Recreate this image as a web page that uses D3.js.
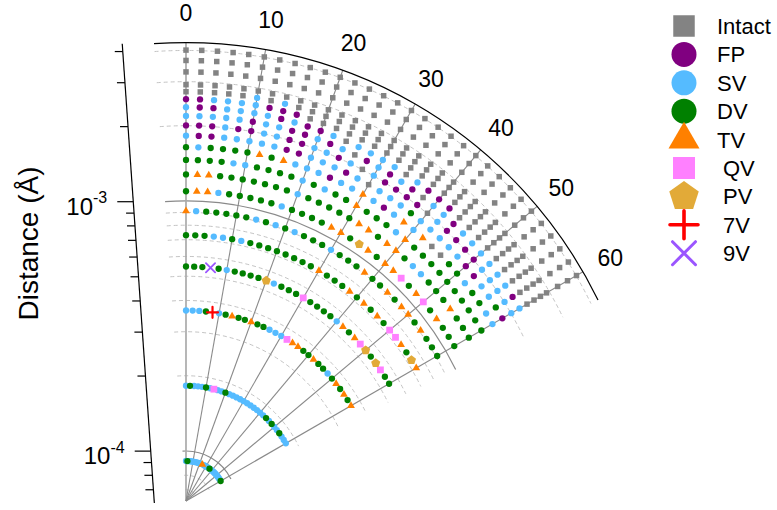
<!DOCTYPE html>
<html>
<head>
<meta charset="utf-8">
<script src="https://d3js.org/d3.v7.min.js"></script>
<style>
  html, body { margin: 0; padding: 0; background: #fff; }
  svg { display: block; }
  text { font-family: "Liberation Sans", Arial, Helvetica, sans-serif; fill: #000; }
</style>
</head>
<body>
<svg id="chart" width="777" height="510"></svg>
<script>
// Defect types, in legend order, with the one-letter code used in shellTypes
const typeNames = ["Intact", "FP", "SV", "DV", "TV", "QV", "PV", "7V", "9V"];
const typeCodes = ["I", "F", "S", "D", "T", "Q", "P", "7", "9"];

// Polar angle of each sample on a shell (degrees)
const angles = [0, 2, 4, 6, 8, 10, 12, 14, 16, 18, 20, 22, 24, 26, 28, 30,
                32, 34, 36, 38, 40, 42, 44, 46, 48, 50, 52, 54, 56, 58, 60];

// Shell distances (Å), inner to outer
const distances = [9.12e-5, 1.824e-4, 3.648e-4, 5.47e-4, 7.30e-4, 9.12e-4,
                   1.094e-3, 1.277e-3, 1.459e-3, 1.642e-3, 1.824e-3, 2.006e-3,
                   2.189e-3, 2.371e-3, 2.554e-3, 2.736e-3, 2.918e-3, 3.283e-3,
                   3.648e-3, 4.013e-3];

// Defect type at every angle of each shell (one code per angle, spaces ignored)
const shellTypes = [
  "SDSSS SSSSS SSTSS SSSDS SSSSS SSSSS D",
  "SDSSS DSQSS DSSSS SSSSS SSDSD SSDSS S",
  "SSSD7 SDTDD TDDSS SQTTD DTDDS DTDTD T",
  "DDD9D SDDDD PSDDD QDDDD STDTQ PDPQD D",
  "DDDSS DSDDD DDDDD TDDDT DTDTD QQTDP T",
  "TSDDD DDSDS DSDDD SDDDT DDTDT TDTDD D",
  "DTTSD DDDDS DDDDT TDPTD TTQDT QDTDD D",
  "DTTDD DDDDD SDDDD DTTDT TDSSD DDTDD D",
  "DDDDS SDDDD SDSDD TDDDS TDDDD DDDDD D",
  "DSDDD DTDTS SSFSS TSFST STIID DSDDS S",
  "SFFSS SSSFF SSSFS ISSSD SSSSS FFSSD F",
  "FFFSF FSSFF SSFSI SFFFF ISFFF FSSSS S",
  "SSSSS FSSFF SFSIF SFSFI SSFSS SSSSF S",
  "SFFSS SSFSF FSISS SSISF FFIII IIIII I",
  "FFSSS SFFFI IIIII IIIII IIIII IIIII I",
  "IIIII SISII IIIII IIIII IIIII IIIII I",
  "IIIII IIIII IIIII IIIII IIIII IIIII I",
  "IIIII IIIII IIIII IIIII IIIII IIIII I",
  "IIIII IIIII IIIII IIIII IIIII IIIII I",
  "IIIII IIIII IIIII IIIII IIIII IIIII I"
];

// Axis ticks
const angleTicks = [0, 10, 20, 30, 40, 50, 60];
const radialMajor = [1e-4, 1e-3];
const radialMajorExp = ["-4", "-3"];
const radialMinor = [7e-5, 8e-5, 9e-5, 2e-4, 3e-4, 4e-4, 5e-4, 6e-4, 7e-4, 8e-4, 9e-4,
                     2e-3, 3e-3, 4e-3];

// ---- layout ----
const svg = d3.select("#chart");
const cx = 186, cy = 501;
const rMax = 458.4;
const arcStart = -4, arcEnd = 64;          // angular span of the sector (deg)

const rScale = d3.scaleLog().domain([6.31e-5, 4.3e-3]).range([0, rMax]);
const aScale = d3.scaleLinear().domain([0, 360]).range([0, 2 * Math.PI]);

const colors = {
  I: "#838383", F: "#800080", S: "#55bbff", D: "#008000", T: "#ff8000",
  Q: "#ff80ff", P: "#e2aa38", "7": "#ff0000", "9": "#9b55ff"
};

function polar(r, deg) {
  const a = aScale(deg);
  return [cx + r * Math.sin(a), cy - r * Math.cos(a)];
}

function arcPath(r) {
  const p = d3.path();
  const a0 = aScale(arcStart) - Math.PI / 2, a1 = aScale(arcEnd) - Math.PI / 2;
  p.moveTo(cx + r * Math.cos(a0), cy + r * Math.sin(a0));
  p.arc(cx, cy, r, a0, a1);
  return p.toString();
}

// ---- grid ----
const grid = svg.append("g");
grid.selectAll("path.minor").data(radialMinor).join("path")
  .attr("class", "minor")
  .attr("d", d => arcPath(rScale(d)))
  .attr("fill", "none").attr("stroke", "#c4c4c4")
  .attr("stroke-width", 1).attr("stroke-dasharray", "4,3");

grid.selectAll("path.major").data(radialMajor).join("path")
  .attr("class", "major")
  .attr("d", d => arcPath(rScale(d)))
  .attr("fill", "none").attr("stroke", "#8a8a8a").attr("stroke-width", 1.2);

grid.selectAll("line.spoke").data(angleTicks).join("line")
  .attr("class", "spoke")
  .attr("x1", cx).attr("y1", cy)
  .attr("x2", d => polar(rMax, d)[0]).attr("y2", d => polar(rMax, d)[1])
  .attr("stroke", d => d === 0 ? "#aaaaaa" : "#8a8a8a")
  .attr("stroke-width", d => d === 0 ? 1.7 : 1.1);

svg.append("path").attr("d", arcPath(rMax))
  .attr("fill", "none").attr("stroke", "#000").attr("stroke-width", 1.2);

// angular tick labels
svg.append("g").selectAll("text").data(angleTicks).join("text")
  .attr("x", d => polar(490, d)[0])
  .attr("y", d => polar(490, d)[1] + 10)
  .attr("text-anchor", "middle")
  .attr("font-size", 23)
  .text(d => d);

// ---- radial axis (drawn along the -4° edge, offset to the left) ----
const axisTilt = aScale(-arcStart);
const axisX0 = 154.2;
function axisPoint(r) {
  return [axisX0 - r * Math.sin(axisTilt), cy - r * Math.cos(axisTilt)];
}
const ax = svg.append("g").attr("stroke", "#000").attr("stroke-width", 1.2);
ax.append("line")
  .attr("x1", axisPoint(-2)[0]).attr("y1", axisPoint(-2)[1])
  .attr("x2", axisPoint(rMax)[0]).attr("y2", axisPoint(rMax)[1]);
ax.selectAll("line.minor").data(radialMinor).join("line")
  .attr("class", "minor")
  .attr("x1", d => axisPoint(rScale(d))[0]).attr("y1", d => axisPoint(rScale(d))[1])
  .attr("x2", d => axisPoint(rScale(d))[0] - 8).attr("y2", d => axisPoint(rScale(d))[1]);
ax.selectAll("line.major").data(radialMajor).join("line")
  .attr("class", "major")
  .attr("x1", d => axisPoint(rScale(d))[0]).attr("y1", d => axisPoint(rScale(d))[1])
  .attr("x2", d => axisPoint(rScale(d))[0] - 16).attr("y2", d => axisPoint(rScale(d))[1]);

const tickLab = svg.append("g").selectAll("text").data(radialMajor).join("text")
  .attr("x", d => axisPoint(rScale(d))[0] - 26)
  .attr("y", d => axisPoint(rScale(d))[1] + 13)
  .attr("text-anchor", "end")
  .attr("font-size", 24);
tickLab.append("tspan").text("10");
tickLab.append("tspan").attr("font-size", 16).attr("dy", -11.5)
  .text((d, i) => radialMajorExp[i]);

svg.append("text")
  .attr("transform", "translate(38,243.5) rotate(-90)")
  .attr("text-anchor", "middle")
  .attr("font-size", 28)
  .text("Distance (Å)");

// ---- markers ----
function markerPath(code, big) {
  const s = big ? 1 : 0;
  switch (code) {
    case "I": { const side = [5.5, 21.5][s]; return d3.symbol(d3.symbolSquare, side * side)(); }
    case "F": case "S": case "D": { const dia = [6.3, 25][s]; return d3.symbol(d3.symbolCircle, Math.PI * dia * dia / 4)(); }
    case "T": { const side = [7.8, 31][s]; return d3.symbol(d3.symbolTriangle, side * side * Math.sqrt(3) / 4)(); }
    case "Q": { const side = [6.8, 22][s]; return d3.symbol(d3.symbolSquare, side * side)(); }
    case "P": {
      const R = [4.8, 15.5][s];
      const pts = d3.range(5).map(k => {
        const a = -Math.PI / 2 + k * 2 * Math.PI / 5;
        return [R * Math.cos(a), R * Math.sin(a)];
      });
      return d3.line()(pts) + "Z";
    }
    case "7": { const h = [5.5, 14][s]; return `M${-h},0L${h},0M0,${-h}L0,${h}`; }
    case "9": { const h = [4.6, 11.5][s]; return `M${-h},${-h}L${h},${h}M${-h},${h}L${h},${-h}`; }
  }
}
function styleMarker(sel, code, big) {
  if (code === "7" || code === "9") {
    sel.attr("fill", "none").attr("stroke", colors[code])
      .attr("stroke-width", code === "7" ? (big ? 3.6 : 2.2) : (big ? 3 : 1.8))
      .attr("stroke-linecap", "round");
  } else {
    sel.attr("fill", colors[code]).attr("stroke", "none");
  }
}

const samples = [];
distances.forEach((d, i) => {
  const codes = shellTypes[i].replace(/ /g, "");
  angles.forEach((a, j) => samples.push({ d, a, code: codes[j] }));
});

const pts = svg.append("g");
typeCodes.forEach(code => {
  const sel = pts.append("g").selectAll("path")
    .data(samples.filter(p => p.code === code)).join("path")
    .attr("d", markerPath(code, false))
    .attr("transform", p => {
      const [x, y] = polar(rScale(p.d), p.a);
      return `translate(${x},${y})`;
    });
  styleMarker(sel, code, false);
});

// ---- legend ----
const legend = svg.append("g");
typeNames.forEach((name, i) => {
  const code = typeCodes[i];
  const y = 26 + i * 28.4;
  const m = legend.append("path")
    .attr("d", markerPath(code, true))
    .attr("transform", `translate(684,${y})`);
  styleMarker(m, code, true);
  legend.append("text")
    .attr("x", i < 5 ? 717 : 723)
    .attr("y", y + 8)
    .attr("font-size", 22)
    .text(name);
});
</script>
</body>
</html>
